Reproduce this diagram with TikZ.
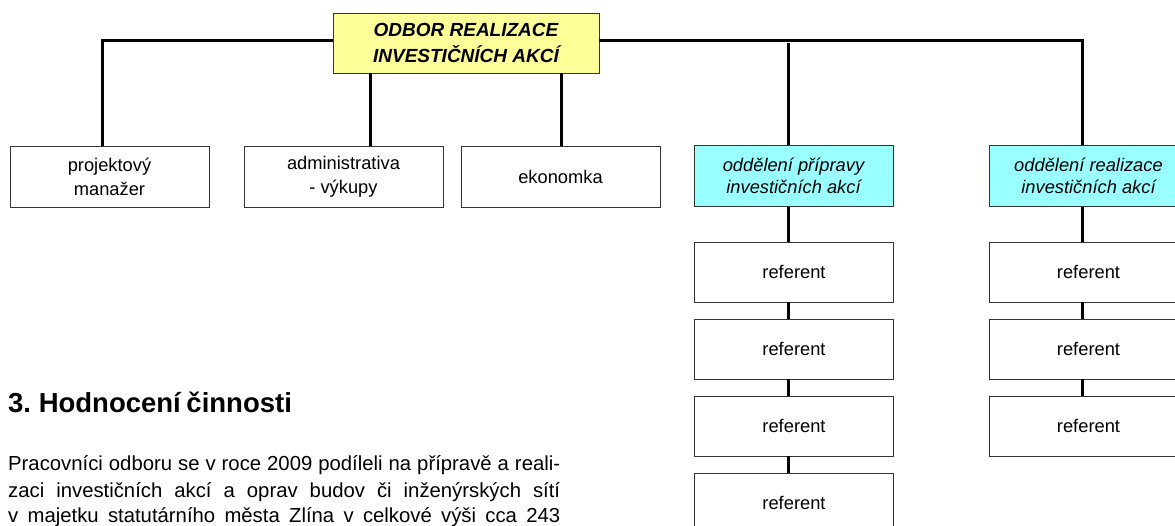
\documentclass[tikz,border=0pt]{standalone}
\usepackage{fontspec}
\setmainfont{Liberation Sans}
\frenchspacing
\definecolor{titleyellow}{HTML}{FFFF99}
\definecolor{deptcyan}{HTML}{99FFFF}
\tikzset{
  box/.style={draw=black!80, line width=0.9pt, fill=white, minimum width=199pt,
    minimum height=61pt, inner sep=0pt, align=center,
    font=\fontsize{18.3}{24}\selectfont},
  dept/.style={box, fill=deptcyan, font=\fontsize{18.3}{22}\selectfont\itshape},
  refbox/.style={box, minimum height=60pt},
  titlebox/.style={draw=black!80, line width=0.9pt, fill=titleyellow,
    minimum width=266pt, minimum height=60pt, inner sep=0pt, align=center,
    font=\fontsize{19}{26}\selectfont\bfseries\itshape},
  conn/.style={line width=3pt, black},
  paraline/.style={anchor=base west, inner sep=0pt,
    font=\fontsize{20.3}{25.5}\selectfont},
}
\begin{document}
\begin{tikzpicture}[x=1pt,y=-1pt]
\useasboundingbox (0,0) rectangle (1175,526);

\node[titlebox] (top) at (466,43) {ODBOR REALIZACE\\INVESTIČNÍCH AKCÍ};
\node[box] (pm) at (109.5,176.5) {projektový\\manažer};
\node[box] (adm) at (343.5,177) {administrativa\\- výkupy};
\node[box] (eko) at (560.5,177) {ekonomka};
\node[dept] (op) at (793.5,176) {oddělení přípravy\\investičních akcí};
\node[dept] (odr) at (1088.5,176) {oddělení realizace\\investičních akcí};

\node[refbox] (l1) at (794,272) {referent};
\node[refbox] (l2) at (794,349) {referent};
\node[refbox] (l3) at (794,426) {referent};
\node[refbox] (l4) at (794,503) {referent};
\node[refbox] (r1) at (1088.5,272) {referent};
\node[refbox] (r2) at (1088.5,349) {referent};
\node[refbox] (r3) at (1088.5,426) {referent};

\draw[conn] (102,0 |- pm.north) -- (102,41) -- (top.west |- 0,41);
\draw[conn] (top.east |- 0,41) -- (1082,41) -- (1082,0 |- odr.north);
\draw[conn] (370,0 |- top.south) -- (370,0 |- adm.north);
\draw[conn] (561,0 |- top.south) -- (561,0 |- eko.north);
\draw[conn] (788,43.5) -- (788,0 |- op.north);
\draw[conn] (788,0 |- op.south) -- (788,0 |- l1.north);
\draw[conn] (788,0 |- l1.south) -- (788,0 |- l2.north);
\draw[conn] (788,0 |- l2.south) -- (788,0 |- l3.north);
\draw[conn] (788,0 |- l3.south) -- (788,0 |- l4.north);
\draw[conn] (1082,0 |- odr.south) -- (1082,0 |- r1.north);
\draw[conn] (1082,0 |- r1.south) -- (1082,0 |- r2.north);
\draw[conn] (1082,0 |- r2.south) -- (1082,0 |- r3.north);

\node[anchor=base west, inner sep=0pt, font=\fontsize{27.5}{30}\selectfont\bfseries]
  (head) at (8,412) {3. Hodnocení\hspace{-2pt} činnosti};

\node[paraline] (p1) at (8,470) {\makebox[552pt][s]{Pracovníci odboru se v roce 2009 podíleli na přípravě a reali-}};
\node[paraline] (p2) at (8,497) {\makebox[552pt][s]{zaci investičních akcí a oprav budov či inženýrských sítí}};
\node[paraline] (p3) at (8,522) {\makebox[552pt][s]{v majetku statutárního města Zlína v celkové výši cca 243}};
\end{tikzpicture}
\end{document}
